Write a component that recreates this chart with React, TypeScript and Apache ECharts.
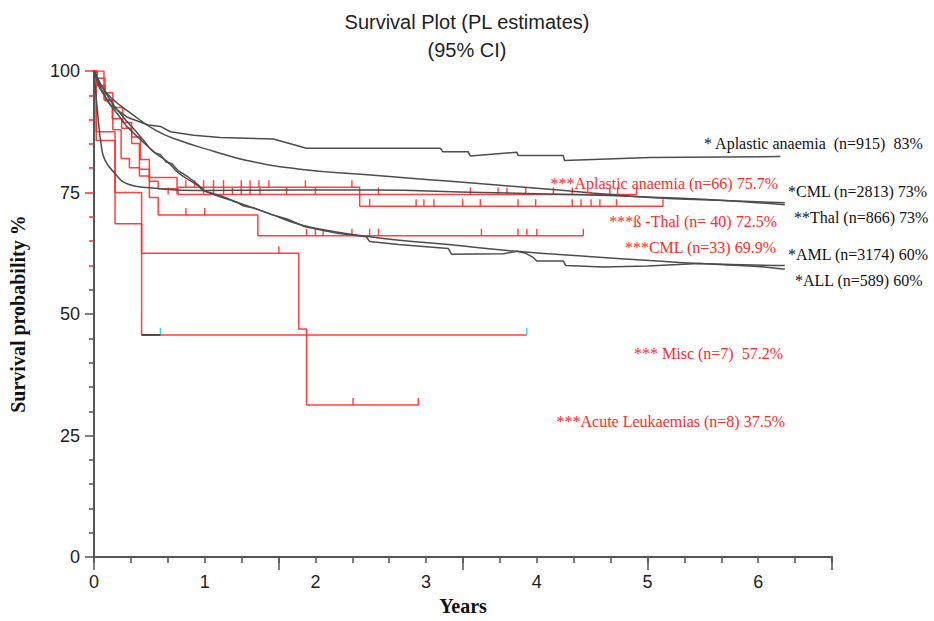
import React, { useEffect, useRef } from "react";
import * as echarts from "echarts";

// ---------- data (years, survival %) ----------
const xTickLabels = ["0", "1", "2", "3", "4", "5", "6"];

// cohort curves (grey)
const grayAplastic = [[0,100],[0.05,96.5],[0.15,93],[0.3,90.5],[0.49,88.9],[0.6,88.6],[0.69,87.5],[0.9,86.8],[1.14,86.3],[1.62,86],[1.92,84.1],[3.13,84.1],[3.15,83.4],[3.38,83.4],[3.4,82.5],[3.82,83.3],[3.83,82.6],[4.24,82.6],[4.25,81.6],[5.02,82.2],[6.2,82.4]];
const grayCML = [[0,100],[0.05,97.5],[0.15,94.6],[0.34,91.2],[0.55,87.9],[0.76,85.8],[1.08,83.5],[1.38,81.6],[1.86,79.8],[2.5,78.6],[3.0,77.7],[3.5,76.8],[4.0,75.9],[4.5,74.9],[5.02,74.0],[5.5,73.5],[6.24,72.9]];
const grayThal = [[0,100],[0.03,92],[0.07,84],[0.1,81.6],[0.17,79.4],[0.31,76.7],[0.5,76.0],[0.94,75.4],[1.86,75.5],[2.5,75.5],[3.5,75.0],[4.3,74.6],[5.0,74.1],[5.5,73.6],[6.24,72.5]];
const grayAML = [[0,100],[0.13,94.6],[0.25,90.9],[0.37,87.8],[0.47,85.1],[0.52,83.7],[0.67,81.2],[0.76,79.1],[0.94,76.4],[0.99,75.4],[1.29,73],[1.59,70.6],[1.89,68.2],[2.19,66.9],[2.49,65.9],[2.76,65.2],[3.2,64.3],[3.82,62.9],[4.5,61.8],[5.02,61.0],[5.47,60.4],[6.24,60.0]];
const grayALL = [[0,100],[0.06,96.5],[0.13,93.5],[0.2,91.5],[0.3,88.5],[0.4,86.3],[0.5,84.2],[0.55,83.2],[0.6,82.8],[0.65,81.3],[0.7,81],[0.76,79.5],[0.85,78.2],[0.94,76.6],[1.0,75.3],[1.15,74.3],[1.3,72.9],[1.35,72.2],[1.45,71.8],[1.6,70.5],[1.75,69.5],[1.9,68.0],[2.05,67.3],[2.2,66.6],[2.46,65.9],[2.49,64.9],[2.75,64.3],[3.2,63.5],[3.23,62.3],[3.7,62.4],[3.82,62.9],[3.9,62.5],[3.97,61.6],[4.0,60.9],[4.24,60.9],[4.26,60.0],[4.6,59.7],[5.0,59.9],[5.47,60.4],[6.0,59.8],[6.24,59.2]];

// study curves (red, Kaplan-Meier steps)
const redAplastic = [[0,100],[0.02,98.5],[0.1,95.5],[0.17,92.5],[0.26,89.4],[0.34,86.4],[0.42,81.8],[0.5,77.3],[0.58,75.8],[0.76,74.6],[4.9,74.6]];
const redThal = [[0,100],[0.09,94.1],[0.165,90.2],[0.25,88.2],[0.34,85.1],[0.41,79.8],[0.5,78.1],[0.75,76.1],[2.4,72.2],[5.14,72.2]];
const redCML = [[0,100],[0.03,97],[0.1,93.9],[0.17,87.9],[0.245,82],[0.32,80.1],[0.41,78.4],[0.5,74],[0.58,70.4],[1.48,66.1],[4.42,66.1]];
const redMisc = [[0,100],[0.02,85.7],[0.19,68.6],[0.43,45.7],[3.91,45.7]];
const redAcute = [[0,100],[0.02,87.5],[0.19,75],[0.43,62.5],[1.85,46.9],[1.92,31.3],[2.93,31.3]];
const miscOverlap = [[0.43,45.7],[0.6,45.7]];

// censor marks
const aplasticCensorTimes = [0.67,0.75,0.99,1.08,1.17,1.25,1.33,1.41,1.5,1.74,2.0,2.57,3.4,3.65,3.73,3.9,4.15,4.32,4.66,4.73,4.9];
const aplasticCensorLevel = 74.6;
const thalCensorTimesA = [0.83,0.91,0.99,1.08,1.17,1.33,1.41,1.49,1.58,1.91,2.33];
const thalCensorLevelA = 76.1;
const thalCensorTimesB = [2.49,2.91,2.98,3.07,3.33,3.49,3.83,3.99,4.32,4.4,4.49,4.57,4.72,5.14];
const thalCensorLevelB = 72.2;
const cmlCensorTimesA = [0.83,1.0];
const cmlCensorLevelA = 70.4;
const cmlCensorTimesB = [1.92,2.0,2.07,2.33,2.49,2.57,3.5,3.83,3.91,4.0,4.42];
const cmlCensorLevelB = 66.1;
const acuteCensors = [[1.67,62.5],[2.34,31.3],[2.93,31.3]];
const miscCensors = [[0.6,45.7],[3.91,45.7]];

// labels
const grayLabels = [
  { text: "* Aplastic anaemia  (n=915)  83%", x: 704, y: 143 },
  { text: "*CML (n=2813) 73%", x: 788, y: 191 },
  { text: "**Thal (n=866) 73%", x: 794, y: 217 },
  { text: "*AML (n=3174) 60%", x: 788, y: 254 },
  { text: "*ALL (n=589) 60%", x: 795, y: 280 },
];
const redLabels = [
  { text: "***Aplastic anaemia (n=66) 75.7%", x: 778, y: 183 },
  { text: "***ß -Thal (n= 40) 72.5%", x: 777, y: 221 },
  { text: "***CML (n=33) 69.9%", x: 776, y: 247 },
  { text: "*** Misc (n=7)  57.2%", x: 783, y: 353 },
  { text: "***Acute Leukaemias (n=8) 37.5%", x: 785, y: 421 },
];

const RED = "#ff2b2b";
const GRAY = "#4d4d4d";
const AXIS = "#555";

const censorAt = (times: number[], level: number) => times.map((t) => [t, level]);

export default function App() {
  const ref = useRef<HTMLDivElement>(null);
  useEffect(() => {
    if (!ref.current) return;
    const chart = echarts.init(ref.current, null, { renderer: "svg" });

    const grayLine = (name: string, data: number[][], smooth = false) => ({
      name, type: "line", data, smooth, symbol: "none", z: 3,
      lineStyle: { color: GRAY, width: 1.5 },
    });
    const redLine = (name: string, data: number[][]) => ({
      name, type: "line", data, step: "end", symbol: "none", z: 2,
      lineStyle: { color: RED, width: 1.5, opacity: 0.9 },
    });
    const ticks = (name: string, data: number[][], color = RED) => ({
      name, type: "scatter", data, symbol: "rect", symbolSize: [1.4, 7],
      symbolOffset: [0, -3.5], itemStyle: { color, opacity: 0.9 }, z: 2,
    });

    const yBase = { type: "value", min: 0, max: 100, position: "left", offset: 0, splitLine: { show: false } };

    chart.setOption({
      animation: false,
      backgroundColor: "#fff",
      title: {
        text: "Survival Plot (PL estimates)\n(95% CI)",
        left: "center",
        top: 3,
        textStyle: { fontFamily: "Liberation Sans", fontSize: 20, fontWeight: "normal", color: "#222", lineHeight: 28 },
      },
      grid: { left: 94, right: 102, top: 71, bottom: 60, containLabel: false },
      xAxis: [
        {
          type: "value", min: 0, max: 20 / 3, interval: 1 / 3,
          axisLine: { lineStyle: { color: AXIS, width: 2 } },
          axisTick: { length: 6, lineStyle: { color: AXIS, width: 1.5 } },
          axisLabel: {
            margin: 16, fontSize: 18, color: "#222", fontFamily: "Liberation Sans",
            formatter: (v: number) => {
              const r = Math.round(v);
              return Math.abs(v - r) < 1e-6 && r < xTickLabels.length ? xTickLabels[r] : "";
            },
          },
          splitLine: { show: false },
          name: "Years", nameLocation: "middle", nameGap: 37,
          nameTextStyle: { fontFamily: "Liberation Serif", fontWeight: "bold", fontSize: 20, color: "#111" },
        },
        {
          type: "value", min: 0, max: 20 / 3, interval: 5 / 3, position: "bottom", offset: 0,
          axisLine: { show: false },
          axisTick: { length: 13, lineStyle: { color: AXIS, width: 1.5 } },
          axisLabel: { show: false }, splitLine: { show: false },
        },
      ],
      yAxis: [
        {
          ...yBase, interval: 5,
          axisLine: { lineStyle: { color: AXIS, width: 2 } },
          axisTick: { length: 5, customValues: [5, 10, 15, 20, 30, 35, 40, 45, 55], lineStyle: { color: AXIS, width: 1.5 } },
          axisLabel: { customValues: [0, 25, 50, 75, 100], margin: 14, fontSize: 18, color: "#222", fontFamily: "Liberation Sans" },
          name: "Survival probability %", nameLocation: "middle", nameGap: 66, nameRotate: 90,
          nameTextStyle: { fontFamily: "Liberation Serif", fontWeight: "bold", fontSize: 20, color: "#111" },
        },
        {
          ...yBase, interval: 25, axisLine: { show: false }, axisLabel: { show: false },
          axisTick: { length: 9, customValues: [0, 25, 50], lineStyle: { color: AXIS, width: 1.5 } },
        },
        {
          ...yBase, interval: 5, axisLine: { show: false }, axisLabel: { show: false },
          axisTick: { length: 5, customValues: [60, 65, 70, 80, 85, 90, 95], lineStyle: { color: RED, width: 1.5 } },
        },
        {
          ...yBase, interval: 25, axisLine: { show: false }, axisLabel: { show: false },
          axisTick: { length: 9, customValues: [75, 100], lineStyle: { color: RED, width: 1.5 } },
        },
      ],
      series: [
        redLine("Aplastic anaemia (n=66)", redAplastic),
        redLine("ß-Thal (n=40)", redThal),
        redLine("CML (n=33)", redCML),
        redLine("Misc (n=7)", redMisc),
        redLine("Acute Leukaemias (n=8)", redAcute),
        ticks("Aplastic censored", censorAt(aplasticCensorTimes, aplasticCensorLevel)),
        ticks("Thal censored A", censorAt(thalCensorTimesA, thalCensorLevelA)),
        ticks("Thal censored B", censorAt(thalCensorTimesB, thalCensorLevelB)),
        ticks("CML censored A", censorAt(cmlCensorTimesA, cmlCensorLevelA)),
        ticks("CML censored B", censorAt(cmlCensorTimesB, cmlCensorLevelB)),
        ticks("Acute censored", acuteCensors),
        ticks("Misc censored", miscCensors, "#22d3e6"),
        { name: "Misc overlap", type: "line", data: miscOverlap, symbol: "none", z: 3, lineStyle: { color: "#333", width: 1.5 } },
        grayLine("Aplastic anaemia (n=915)", grayAplastic),
        grayLine("CML (n=2813)", grayCML, true),
        grayLine("Thal (n=866)", grayThal, true),
        grayLine("AML (n=3174)", grayAML, true),
        grayLine("ALL (n=589)", grayALL),
      ],
      graphic: [
        ...grayLabels.map((l) => ({
          type: "text", x: l.x, y: l.y, z: 10,
          style: { text: l.text, fill: "#111", fontSize: 16, fontFamily: "Liberation Serif", align: "left", verticalAlign: "middle" },
        })),
        ...redLabels.map((l) => ({
          type: "text", x: l.x, y: l.y, z: 10,
          style: { text: l.text, fill: RED, fontSize: 16, fontFamily: "Liberation Serif", align: "right", verticalAlign: "middle" },
        })),
      ],
    });
    return () => chart.dispose();
  }, []);

  return <div ref={ref} style={{ position: "fixed", left: 0, top: 0, width: 934, height: 621, background: "#fff" }} />;
}
